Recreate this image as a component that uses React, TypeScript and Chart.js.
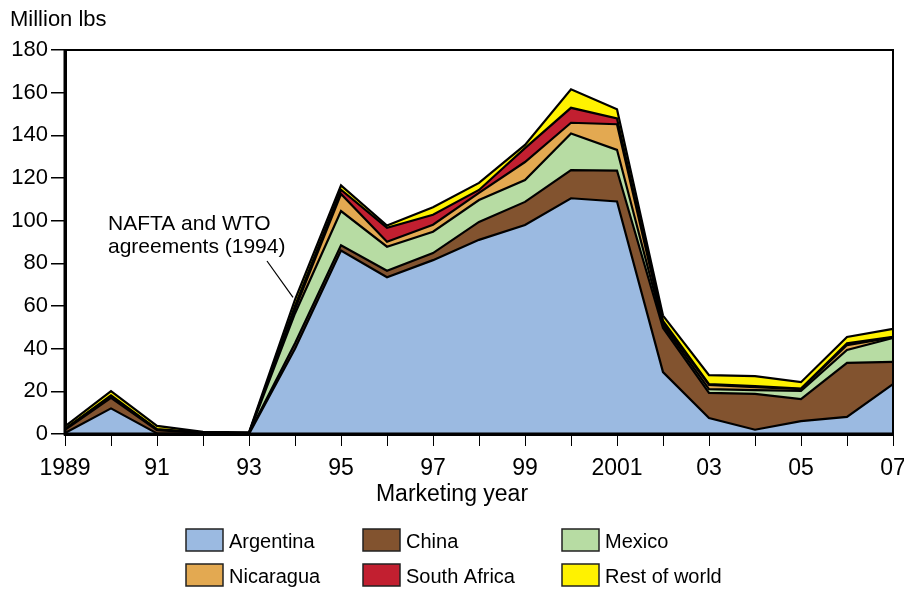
import React, { useEffect, useRef } from "react";
import { Chart, registerables } from "chart.js";

Chart.register(...registerables);

const years = ["1989","1990","1991","1992","1993","1994","1995","1996","1997","1998","1999","2000","2001","2002","2003","2004","2005","2006","2007"];
const xTickLabels = ["1989","","91","","93","","95","","97","","99","","2001","","03","","05","","07"];

const argentina = [0.5, 12, 0.3, 0.2, 0, 40, 86, 73.5, 81.5, 91, 98, 110.5, 109, 29, 7.5, 2, 6, 8, 23.4];
const china = [1.5, 5, 1.5, 0.3, 0.3, 2.5, 2.5, 3, 3.3, 8.4, 10.8, 13.2, 14.5, 20.7, 11.8, 16.8, 10.4, 25.3, 10.4];
const mexico = [0, 0.3, 0, 0, 0, 14, 16, 11.3, 10, 10.3, 10.2, 17.2, 9.7, 1.3, 1.7, 1.8, 3.8, 6.1, 11.2];
const nicaragua = [0.2, 0.3, 0.2, 0, 0, 2, 8, 2.3, 3.3, 3.3, 8.5, 5, 12, 1, 2, 1.4, 0.8, 2.3, 0.3];
const southAfrica = [0.2, 0.5, 0.3, 0.2, 0.2, 1.5, 2, 6.6, 4.7, 1.4, 6.5, 7, 2.7, 1, 0.4, 0.4, 0.3, 0.8, 0.3];
const restOfWorld = [1.2, 2, 1.5, 0.3, 0.3, 3, 2, 1, 3.5, 3.3, 1.5, 8.7, 4.3, 2.5, 4.2, 4.7, 3, 3, 3.7];

const seriesNames = ["Argentina", "China", "Mexico", "Nicaragua", "South Africa", "Rest of world"];
const seriesColors = ["#9BBAE1", "#82532F", "#B7DCA3", "#E3A951", "#C21F30", "#FFF200"];
const seriesData = [argentina, china, mexico, nicaragua, southAfrica, restOfWorld];

const FONT = "'Liberation Sans', Arial, Helvetica, sans-serif";

export default function App() {
  const ref = useRef<HTMLCanvasElement | null>(null);

  useEffect(() => {
    document.body.style.margin = "0";
    const canvas = ref.current;
    if (!canvas) return;

    const overlay = {
      id: "overlay",
      afterDatasetsDraw(chart: any) {
        const ctx = chart.ctx;
        const a = chart.chartArea;
        ctx.save();
        ctx.strokeStyle = "#000";
        ctx.lineWidth = 2;
        ctx.beginPath();
        ctx.moveTo(a.left, a.top);
        ctx.lineTo(a.right, a.top);
        ctx.lineTo(a.right, a.bottom);
        ctx.stroke();
        ctx.lineWidth = 3;
        ctx.beginPath();
        ctx.moveTo(a.left, a.top - 1);
        ctx.lineTo(a.left, a.bottom);
        ctx.lineTo(a.right + 1, a.bottom);
        ctx.stroke();
        ctx.restore();
      },
      afterDraw(chart: any) {
        const ctx = chart.ctx;
        const xs = chart.scales.x;
        const ys = chart.scales.y;
        ctx.save();
        ctx.fillStyle = "#000";
        ctx.textBaseline = "alphabetic";
        ctx.font = `22px ${FONT}`;
        ctx.textAlign = "left";
        ctx.fillText("Million lbs", 10, 26);
        ctx.font = `23px ${FONT}`;
        ctx.textAlign = "center";
        ctx.fillText("Marketing year", chart.width / 2, 501);
        ctx.font = `21px ${FONT}`;
        ctx.textAlign = "left";
        ctx.fillText("NAFTA and WTO", 108, 230);
        ctx.fillText("agreements (1994)", 108, 253);
        const px = xs.getPixelForValue(5) - 2;
        const py = ys.getPixelForValue(64);
        ctx.strokeStyle = "#000";
        ctx.lineWidth = 1.2;
        ctx.beginPath();
        ctx.moveTo(267, 261);
        ctx.lineTo(px, py);
        ctx.stroke();
        const colX = [186, 363, 562];
        const rowY = [529, 564];
        ctx.font = `20px ${FONT}`;
        seriesNames.forEach((name, i) => {
          const cx = colX[i % 3];
          const ry = rowY[Math.floor(i / 3)];
          ctx.fillStyle = seriesColors[i];
          ctx.fillRect(cx, ry, 37, 22);
          ctx.strokeStyle = "#222";
          ctx.lineWidth = 1.5;
          ctx.strokeRect(cx, ry, 37, 22);
          ctx.fillStyle = "#000";
          ctx.fillText(name, cx + 43, ry + 19);
        });
        ctx.restore();
      },
    };

    const chart = new Chart(canvas, {
      type: "line",
      data: {
        labels: years,
        datasets: seriesData.map((d, i) => ({
          label: seriesNames[i],
          data: d,
          backgroundColor: seriesColors[i],
          borderColor: "#000",
          borderWidth: 2.2,
          borderJoinStyle: "miter",
          fill: i === 0 ? "origin" : "-1",
          pointRadius: 0,
          tension: 0,
        })),
      },
      options: {
        animation: false,
        responsive: false,
        devicePixelRatio: 1,
        layout: { padding: { top: 50, right: 11, left: 0, bottom: 0 } },
        plugins: { legend: { display: false }, tooltip: { enabled: false } },
        scales: {
          x: {
            type: "category",
            offset: false,
            grid: { display: true, drawOnChartArea: false, drawTicks: true, tickLength: 12, color: "#000", lineWidth: 1 },
            border: { display: true, color: "#000", width: 3 },
            ticks: {
              autoSkip: false,
              maxRotation: 0,
              minRotation: 0,
              padding: 9,
              color: "#000",
              font: { family: FONT, size: 23 },
              callback: (_v: any, i: number) => xTickLabels[i],
            },
            afterFit: (s: any) => { s.height = 157; s.paddingLeft = 0; s.paddingRight = 0; },
          },
          y: {
            stacked: true,
            min: 0,
            max: 180,
            grid: { display: true, drawOnChartArea: false, drawTicks: true, tickLength: 14, color: "#000", lineWidth: 1.5 },
            border: { display: true, color: "#000", width: 3 },
            ticks: { stepSize: 20, padding: 3, color: "#000", font: { family: FONT, size: 22 } },
            afterFit: (s: any) => { s.width = 65; s.paddingTop = 0; s.paddingBottom = 0; },
          },
        },
      },
      plugins: [overlay],
    } as any);

    return () => chart.destroy();
  }, []);

  return (
    <div style={{ position: "absolute", left: 0, top: 0, width: 904, height: 591, background: "#fff" }}>
      <canvas ref={ref} width={904} height={591} style={{ width: 904, height: 591 }} />
    </div>
  );
}
